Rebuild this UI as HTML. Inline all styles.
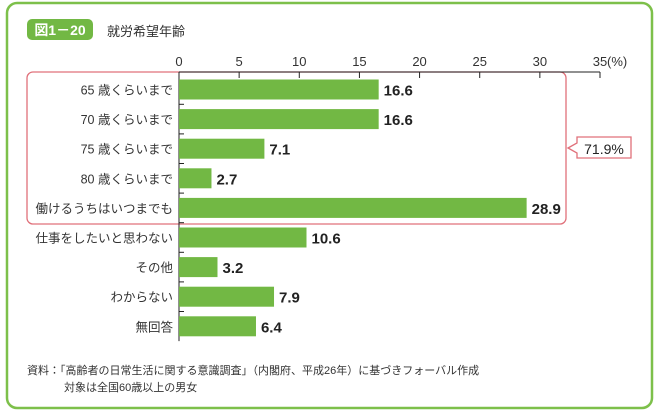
<!DOCTYPE html>
<html><head><meta charset="utf-8"><style>
body{margin:0;background:#fff;}
svg{display:block;font-family:"Liberation Sans","Noto Sans CJK JP",sans-serif;}
</style></head><body>
<svg id="c" width="659" height="412">
<rect x="7" y="3" width="645" height="405" rx="10" fill="none" stroke="#7dc04a" stroke-width="2.5"/>
<rect x="27" y="19" width="66" height="21" rx="5" fill="#72b844"/>
<text x="60" y="35" fill="#fff" font-size="14" font-weight="bold" text-anchor="middle">図1－20</text>
<text x="107" y="36" fill="#333" font-size="13">就労希望年齢</text>
<rect x="27" y="72" width="539" height="152" rx="6" fill="none" stroke="#e0707a" stroke-width="1.3"/>
<path d="M568 148 L577 143 L577 137 L631 137 L631 158 L577 158 L577 153 Z" fill="#fff" stroke="#e0707a" stroke-width="1.3"/>
<text x="604" y="154" fill="#222" font-size="14" text-anchor="middle">71.9%</text>
<g id="axes"></g><g id="bars"></g>
<text x="27" y="374" fill="#333" font-size="11">資料：「高齢者の日常生活に関する意識調査」（内閣府、平成26年）に基づきフォーバル作成</text>
<text x="64" y="391" fill="#333" font-size="11">対象は全国60歳以上の男女</text>
</svg>
<script>
const categories=["65 歳くらいまで","70 歳くらいまで","75 歳くらいまで","80 歳くらいまで","働けるうちはいつまでも","仕事をしたいと思わない","その他","わからない","無回答"];
const values=[16.6,16.6,7.1,2.7,28.9,10.6,3.2,7.9,6.4];
const ticks=[0,5,10,15,20,25,30,35];
const NS="http://www.w3.org/2000/svg";
const x0=179,x1=600,vmax=35,yTop=72,rowH=29.6,firstC=89.5;
const xs=v=>x0+(v/vmax)*(x1-x0);
const yc=i=>firstC+i*rowH;
function mk(t,a,p){const e=document.createElementNS(NS,t);for(const k in a)e.setAttribute(k,a[k]);p.appendChild(e);return e;}
const ax=document.getElementById('axes'),bg=document.getElementById('bars');
const axisTop=mk('line',{x1:x0,y1:yTop,x2:x1,y2:yTop,stroke:'#222','stroke-width':1},ax);


const yl=mk('line',{x1:x0,y1:yTop,x2:x0,y2:yc(categories.length-1)+rowH/2,stroke:'#222','stroke-width':1},ax);


ticks.forEach(t=>{
 const l=mk('line',{x1:xs(t),y1:yTop,x2:xs(t),y2:yTop+6,stroke:'#222'},ax);
 
 
 const tx=mk('text',{x:xs(t),y:yTop-6,'font-size':13,fill:'#333','text-anchor':'middle'},ax);
 tx.textContent=t;
 
 
});
const pu=mk('text',{x:xs(35)+7,y:yTop-6,'font-size':13,fill:'#333'},ax);pu.textContent='(%)';


for(let i=0;i<categories.length-1;i++){const l=mk('line',{x1:x0,y1:yc(i)+rowH/2,x2:x0+5,y2:yc(i)+rowH/2,stroke:'#222'},ax);
 
 }
categories.forEach((c,i)=>{
 const y=yc(i);
 const lb=mk('text',{x:173,y:y+5,'font-size':12.5,fill:'#333','text-anchor':'end'},bg);lb.textContent=c;
 
 
 const r=mk('rect',{x:x0,y:y-10,width:xs(values[i])-x0,height:20,fill:'#72b844'},bg);
 
 
 const v=mk('text',{x:xs(values[i])+5,y:y+6,'font-size':15,'font-weight':'bold',fill:'#222'},bg);v.textContent=values[i].toFixed(1);
 
 
});
</script>
</body></html>
